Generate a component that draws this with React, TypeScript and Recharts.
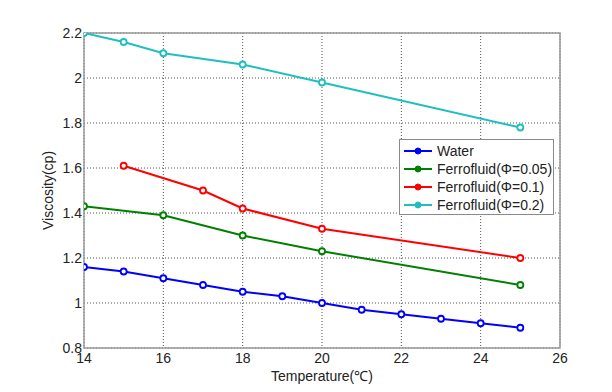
import React from 'react';
import { LineChart, Line, XAxis, YAxis, CartesianGrid, ReferenceArea, Legend, Label, Customized } from 'recharts';

const xTicks = [14, 16, 18, 20, 22, 24, 26];
const yTicks = [0.8, 1, 1.2, 1.4, 1.6, 1.8, 2, 2.2];

const waterT = [14, 15, 16, 17, 18, 19, 20, 21, 22, 23, 24, 25];
const waterV = [1.16, 1.14, 1.11, 1.08, 1.05, 1.03, 1.0, 0.97, 0.95, 0.93, 0.91, 0.89];

const ff005T = [14, 16, 18, 20, 25];
const ff005V = [1.43, 1.39, 1.30, 1.23, 1.08];

const ff01T = [15, 17, 18, 20, 25];
const ff01V = [1.61, 1.50, 1.42, 1.33, 1.20];

const ff02T = [14, 15, 16, 18, 20, 25];
const ff02V = [2.2, 2.16, 2.11, 2.06, 1.98, 1.78];

const names = ['Water', 'Ferrofluid(Φ=0.05)', 'Ferrofluid(Φ=0.1)', 'Ferrofluid(Φ=0.2)'];
const colors = ['#0000FF', '#008000', '#FF0000', '#1FBFBF'];

const toData = (t: number[], v: number[]) => t.map((x, i) => ({ t: x, v: v[i] }));
const series = [
  toData(waterT, waterV),
  toData(ff005T, ff005V),
  toData(ff01T, ff01V),
  toData(ff02T, ff02V),
];

const FONT = '"Liberation Sans", Arial, sans-serif';

const LegendBox = () => (
  <div
    style={{
      border: '1px solid #8a8a8a',
      background: '#fff',
      width: 155,
      height: 76,
      boxSizing: 'border-box',
      paddingTop: 2,
      fontFamily: FONT,
      fontSize: 14,
      color: '#222',
      textAlign: 'left',
    }}
  >
    {names.map((n, i) => (
      <div key={n} style={{ display: 'flex', alignItems: 'center', height: 18 }}>
        <svg width={34} height={10} style={{ marginLeft: 3 }}>
          <line x1={1} y1={5} x2={29} y2={5} stroke={colors[i]} strokeWidth={2} />
          <circle cx={15} cy={5} r={3} fill={colors[i]} stroke={colors[i]} />
        </svg>
        <span style={{ lineHeight: '18px' }}>{n}</span>
      </div>
    ))}
  </div>
);

const Frame = () => (
  <g>
    <rect x={4} y={4} width={3} height={386} fill="#000" />
    <rect x={4} y={4} width={608} height={3} fill="#000" />
    <rect x={4} y={387} width={608} height={5} fill="#000" />
  </g>
);

export default function App() {
  return (
    <div
      style={{
        position: 'relative',
        width: 612,
        height: 392,
        margin: -8,
        background: '#fff',
        boxShadow: 'inset 7px 7px 0 -4px #000, inset 0 -5px 0 0 #000',
      }}
    >
      <LineChart width={612} height={392} margin={{ top: 33, right: 52, bottom: 14, left: 44 }}>
        <Customized component={Frame} />
        <CartesianGrid stroke="#555" strokeDasharray="1 2" horizontalValues={yTicks} verticalValues={xTicks} />
        <XAxis
          type="number"
          dataKey="t"
          domain={[14, 26]}
          ticks={xTicks}
          allowDataOverflow
          height={30}
          axisLine={false}
          tickLine={false}
          tickSize={3}
          tick={{ fontSize: 14, fill: '#222', fontFamily: FONT }}
          tickMargin={2}
        >
          <Label
            content={({ viewBox }: any) => (
              <text x={viewBox.x + viewBox.width / 2} y={381} textAnchor="middle" fontSize={14} fill="#222" fontFamily={FONT}>
                Temperature(℃)
              </text>
            )}
          />
        </XAxis>
        <YAxis
          type="number"
          domain={[0.8, 2.2]}
          ticks={yTicks}
          allowDataOverflow
          width={40}
          axisLine={false}
          tickLine={false}
          tickSize={0}
          tick={{ fontSize: 14, fill: '#222', fontFamily: FONT }}
          tickMargin={2}
        >
          <Label
            content={({ viewBox }: any) => {
              const cx = 53;
              const cy = viewBox.y + viewBox.height / 2;
              return (
                <text x={cx} y={cy} transform={`rotate(-90, ${cx}, ${cy})`} textAnchor="middle" fontSize={14} fill="#222" fontFamily={FONT}>
                  Viscosity(cp)
                </text>
              );
            }}
          />
        </YAxis>
        <ReferenceArea x1={14} x2={26} y1={0.8} y2={2.2} fill="none" stroke="#999" strokeWidth={1.5} />
        {series.map((d, i) => (
          <Line
            key={names[i]}
            data={d}
            dataKey="v"
            name={names[i]}
            stroke={colors[i]}
            strokeWidth={2}
            dot={{ r: 3, fill: '#fff', stroke: colors[i], strokeWidth: 1.8 }}
            isAnimationActive={false}
          />
        ))}
        <Legend
          layout="vertical"
          align="center"
          verticalAlign="middle"
          content={<LegendBox />}
          wrapperStyle={{ position: 'absolute', left: 399, top: 139, width: 155, height: 76 }}
        />
      </LineChart>
    </div>
  );
}
